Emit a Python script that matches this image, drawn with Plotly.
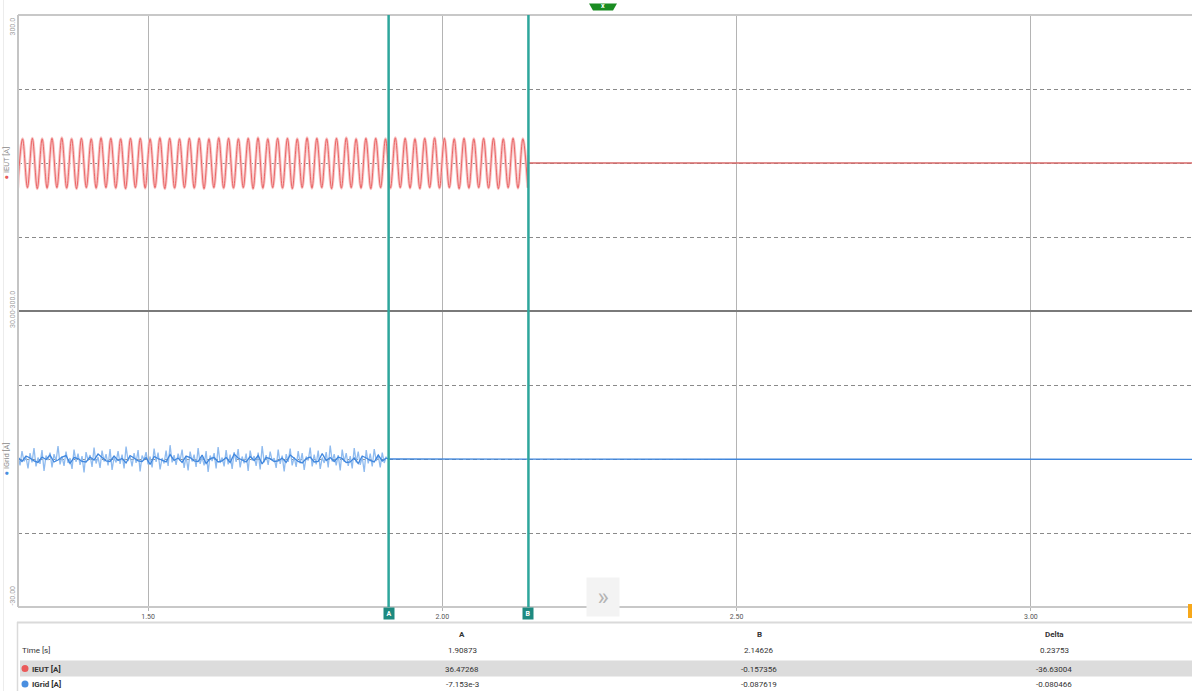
import plotly.graph_objects as go

# ---------------- data ----------------
x_ticks = [1.50, 2.00, 2.50, 3.00]
x_range = [1.2791, 3.2736]

cursor_A = 1.90873
cursor_B = 2.14626

# IEUT: successive extrema (trough, peak, ...) of the 60 Hz current, sampled every half period
ieut_t0 = 1.2785
ieut_dt = 1.0 / 120.0
ieut_extrema = [
    -51, 49, -50, 50, -52, 49, -51, 50, -50, 51, -51, 49, -52, 50, -50, 49, -51, 51, -50, 50,
    -51, 49, -52, 50, -50, 50, -51, 49, -50, 51, -52, 50, -51, 49, -50, 50, -51, 50, -52, 49,
    -50, 51, -51, 50, -51, 49, -50, 50, -52, 51, -51, 49, -50, 50, -51, 50, -52, 49, -50, 51,
    -51, 50, -50, 49, -52, 50, -51, 51, -50, 49, -51, 50, -52, 50, -50, 49, -51, 51, -50, 50,
    -51, 49, -52, 50, -50, 51, -51, 50, -50, 49, -52, 50, -51, 49, -50, 50, -51, 50, -52, 49,
    -50, 50, -51, 49, -50,
]
ieut_tail_t = [2.14517, 2.14626, 2.14640, 3.2736]
ieut_tail_v = [-50, 16, 0, 0]

# IGrid: noisy current before cursor A (envelope spikes + mean line), then ~0
igrid_t0 = 1.2791
igrid_env_dt = 0.0034
igrid_env = [
    0.9, -1.3, 1.6, -0.5, 0.4, -1.9, 1.2, -0.7, 2.2, -1.5, 0.3, -1.0, 1.8, -2.4, 0.7, -0.2, 1.3, -1.7, 1.0, -0.4,
    2.6, -1.1, 0.5, -1.4, 1.5, -0.8, 0.2, -2.0, 1.9, -0.6, 1.1, -1.2, 0.6, -2.7, 1.4, -0.3, 0.8, -1.6, 2.3, -0.9,
    0.4, -1.8, 1.7, -0.5, 1.0, -1.3, 2.0, -2.2, 0.3, -0.7, 1.6, -1.0, 0.9, -1.9, 2.5, -0.4, 0.6, -1.5, 1.2, -0.8,
    1.8, -2.5, 0.7, -0.2, 1.4, -1.1, 0.5, -1.7, 2.1, -0.6, 1.3, -2.1, 0.2, -0.9, 1.7, -1.4, 2.8, -0.7, 0.8, -1.2,
    1.1, -0.3, 1.9, -1.8, 0.6, -2.3, 1.5, -0.5, 0.9, -1.6, 2.2, -1.0, 0.4, -1.3, 1.6, -2.6, 0.7, -0.4, 1.2, -1.9,
    2.4, -0.8, 0.3, -1.5, 1.8, -1.1, 0.9, -2.0, 1.4, -0.6, 2.0, -1.7, 0.5, -0.9, 1.1, -2.4, 1.7, -0.3, 0.6, -1.4,
    1.3, -2.1, 2.6, -0.7, 0.8, -1.2, 1.5, -0.4, 0.2, -1.8, 1.9, -1.0, 0.7, -2.5, 1.0, -0.6, 2.1, -1.3, 0.4, -1.6,
    1.6, -0.9, 1.2, -2.2, 0.5, -0.3, 2.3, -1.5, 0.9, -1.1, 1.7, -2.0, 0.3, -0.8, 1.4, -1.7, 2.7, -0.5, 1.0, -1.3,
    0.8, -2.3, 1.9, -0.6, 1.2, -1.4, 0.6, -1.9, 2.2, -0.7, 1.5, -1.2, 0.4, -2.6, 1.8, -0.9, 1.1, -1.5, 2.0, -0.4,
    0.7, -1.7, 1.3, -0.8, 0.5,
]
igrid_line_dt = 0.0068
igrid_line = [
    0.3, -0.5, 0.6, 0.2, -0.4, -0.7, 0.4, -0.1, 0.8, -0.6, -0.2, 0.4, 0.7, -0.9, 0.3, 0.1, -0.5, -0.6, 0.4, -0.2,
    1.0, 0.2, -0.4, -0.5, 0.6, -0.3, 0.1, -0.8, 0.7, 0.2, -0.4, -0.5, 0.3, -1.1, 0.5, 0.1, -0.3, -0.6, 0.9, -0.3,
    0.2, -0.7, 0.6, 0.3, -0.4, -0.5, 0.8, -0.9, 0.1, 0.3, -0.6, -0.4, 0.3, -0.7, 1.0, 0.2, -0.2, -0.6, 0.5, -0.3,
    0.7, -1.0, 0.3, 0.1, -0.5, -0.4, 0.2, -0.7, 0.8, 0.2, -0.5, -0.8, 0.1, 0.4, -0.6, -0.5, 1.1, -0.3, 0.3, -0.5,
    0.4, 0.1, -0.7, -0.6, 0.2, -0.9, 0.6, 0.2, -0.3, -0.6, 0.8, -0.4, 0.2,
]
igrid_tail_t = [1.9047, 1.90873, 3.2736]
igrid_tail_v = [0.2, -0.007, -0.08]

# cursor table
table_cols = ["A", "B", "Delta"]
time_vals = ["1.90873", "2.14626", "0.23753"]
ieut_vals = ["36.47268", "-0.157356", "-36.63004"]
igrid_vals = ["-7.153e-3", "-0.087619", "-0.080466"]

# ---------------- styling helpers ----------------
W, H = 1192, 691
L, T, R, B = 18, 15, 0, 84
PW, PH = W - L - R, H - T - B


def X(px):
    return (px - L) / PW


def Y(py):
    return (T + PH - py) / PH


RED = "#e85a5b"
RED_BAND = "#f8c6c6"
BLUE = "#3f86dd"
BLUE_BAND = "#8fbbef"
TEAL = "#2ea69c"
TEAL_DARK = "#1d8a80"
FONT = "Roboto"

ieut_t = [ieut_t0 + i * ieut_dt for i in range(len(ieut_extrema))]
igrid_env_t = [igrid_t0 + i * igrid_env_dt for i in range(len(igrid_env))]
igrid_line_t = [igrid_t0 + i * igrid_line_dt for i in range(len(igrid_line))]

fig = go.Figure()
fig.add_trace(go.Scatter(x=ieut_t, y=ieut_extrema, mode="lines", yaxis="y",
                         line=dict(color=RED_BAND, width=3, shape="spline", smoothing=1.0),
                         hoverinfo="skip"))
fig.add_trace(go.Scatter(x=ieut_t, y=ieut_extrema, mode="lines", yaxis="y",
                         line=dict(color=RED, width=0.9, shape="spline", smoothing=1.0)))
fig.add_trace(go.Scatter(x=ieut_tail_t, y=ieut_tail_v, mode="lines", yaxis="y",
                         line=dict(color="#d86a6a", width=1.4)))
fig.add_trace(go.Scatter(x=igrid_env_t, y=igrid_env, mode="lines", yaxis="y2",
                         line=dict(color=BLUE_BAND, width=1.3), hoverinfo="skip"))
fig.add_trace(go.Scatter(x=igrid_line_t, y=igrid_line, mode="lines", yaxis="y2",
                         line=dict(color=BLUE, width=1.3)))
fig.add_trace(go.Scatter(x=igrid_tail_t, y=igrid_tail_v, mode="lines", yaxis="y2",
                         line=dict(color=BLUE, width=1.4)))

grid_common = dict(showgrid=True, gridcolor="#8a8a8a", gridwidth=1, griddash="4px,3px",
                   showticklabels=False, zeroline=False, showline=False, ticks="")

shapes = []
# panel borders
shapes.append(dict(type="line", xref="paper", yref="paper", x0=0, x1=1, y0=1, y1=1,
                   line=dict(color="#c8c8c8", width=2)))
shapes.append(dict(type="line", xref="paper", yref="paper", x0=0, x1=1, y0=0.5, y1=0.5,
                   line=dict(color="#7a7a7a", width=2)))
shapes.append(dict(type="line", xref="paper", yref="paper", x0=0, x1=1, y0=0, y1=0,
                   line=dict(color="#c8c8c8", width=2)))
shapes.append(dict(type="line", xref="paper", yref="paper", x0=0, x1=0, y0=0, y1=1,
                   line=dict(color="#c4c4c4", width=2)))
# outer faint left line
shapes.append(dict(type="line", xref="paper", yref="paper", x0=X(3.5), x1=X(3.5), y0=Y(0), y1=Y(691),
                   line=dict(color="#ececec", width=1)))
# cursors
for c in (cursor_A, cursor_B):
    shapes.append(dict(type="line", xref="x", yref="paper", x0=c, x1=c, y0=0, y1=1,
                       line=dict(color=TEAL, width=2.5), layer="above"))
# table frame
shapes.append(dict(type="line", xref="paper", yref="paper", x0=X(17), x1=1, y0=Y(622.5), y1=Y(622.5),
                   line=dict(color="#dadada", width=2)))
shapes.append(dict(type="line", xref="paper", yref="paper", x0=X(17.5), x1=X(17.5), y0=Y(622), y1=Y(691),
                   line=dict(color="#dadada", width=1.5)))
# highlighted IEUT row
shapes.append(dict(type="rect", xref="paper", yref="paper", x0=X(20), x1=1, y0=Y(676.5), y1=Y(660.5),
                   fillcolor="#dcdcdc", line=dict(width=0), layer="below"))
# legend dots in table
shapes.append(dict(type="circle", xref="paper", yref="paper", x0=X(21.5), x1=X(28.5),
                   y0=Y(672), y1=Y(665), fillcolor="#ea5a5a", line=dict(width=0)))
shapes.append(dict(type="circle", xref="paper", yref="paper", x0=X(21.5), x1=X(28.5),
                   y0=Y(687.5), y1=Y(680.5), fillcolor="#4a8fe0", line=dict(width=0)))
# green tab at top
shapes.append(dict(type="path", xref="paper", yref="paper",
                   path=f"M {X(589)} {Y(3.5)} L {X(617)} {Y(3.5)} L {X(613)} {Y(10.5)} L {X(593)} {Y(10.5)} Z",
                   fillcolor="#1a8c22", line=dict(width=0)))
# orange end marker
shapes.append(dict(type="rect", xref="paper", yref="paper", x0=X(1188), x1=X(1194), y0=Y(618), y1=Y(604),
                   fillcolor="#f7a81b", line=dict(width=0)))

ann = []
lab_font = dict(family=FONT, size=7, color="#a0a0a0")
ann.append(dict(text="300.0", x=X(12.5), y=Y(27), xref="paper", yref="paper", textangle=-90,
                showarrow=False, font=lab_font, xanchor="center", yanchor="middle"))
ann.append(dict(text="30.00-300.0", x=X(13), y=Y(310), xref="paper", yref="paper", textangle=-90,
                showarrow=False, font=lab_font, xanchor="center", yanchor="middle"))
ann.append(dict(text="-30.00", x=X(12.5), y=Y(596), xref="paper", yref="paper", textangle=-90,
                showarrow=False, font=lab_font, xanchor="center", yanchor="middle"))
ann.append(dict(text="<span style='color:#e8595a'>●</span> IEUT [A]", x=X(5.5), y=Y(163),
                xref="paper", yref="paper", textangle=-90, showarrow=False,
                font=dict(family=FONT, size=7.5, color="#8a8a8a"), xanchor="center", yanchor="middle"))
ann.append(dict(text="<span style='color:#4a8fe0'>●</span> IGrid [A]", x=X(5.5), y=Y(459),
                xref="paper", yref="paper", textangle=-90, showarrow=False,
                font=dict(family=FONT, size=7.5, color="#8a8a8a"), xanchor="center", yanchor="middle"))
# cursor badges
for c, name in ((cursor_A, "A"), (cursor_B, "B")):
    ann.append(dict(text=f"<b>{name}</b>", x=c, y=Y(613), xref="x", yref="paper", showarrow=False,
                    font=dict(family=FONT, size=7, color="white"), bgcolor=TEAL_DARK,
                    width=10, height=11, borderpad=0, xanchor="center", yanchor="middle"))
# >> button
ann.append(dict(text="»", x=X(603), y=Y(597), xref="paper", yref="paper", showarrow=False,
                font=dict(family=FONT, size=24, color="#b4b4b4"), bgcolor="#f3f3f3",
                width=32, height=38, borderpad=0, xanchor="center", yanchor="middle"))
# green tab glyph
ann.append(dict(text="<b>x</b>", x=X(603), y=Y(6.5), xref="paper", yref="paper", showarrow=False,
                font=dict(family=FONT, size=7, color="white"), xanchor="center", yanchor="middle"))

# table
col_x = [462, 759, 1054]
tfont = dict(family=FONT, size=8, color="#333333")
for cx, name, tv, iv, gv in zip(col_x, table_cols, time_vals, ieut_vals, igrid_vals):
    ann.append(dict(text=f"<b>{name}</b>", x=X(cx), y=Y(634), xref="paper", yref="paper",
                    showarrow=False, font=tfont, xanchor="center", yanchor="middle"))
    for val, py in ((tv, 650), (iv, 669), (gv, 684)):
        ann.append(dict(text=val, x=X(cx), y=Y(py), xref="paper", yref="paper",
                        showarrow=False, font=tfont, xanchor="center", yanchor="middle"))
ann.append(dict(text="Time [s]", x=X(20), y=Y(650), xref="paper", yref="paper", showarrow=False,
                font=tfont, xanchor="left", yanchor="middle"))
ann.append(dict(text="<b>IEUT [A]</b>", x=X(29.5), y=Y(669), xref="paper", yref="paper", showarrow=False,
                font=tfont, xanchor="left", yanchor="middle"))
ann.append(dict(text="<b>IGrid [A]</b>", x=X(29.5), y=Y(684), xref="paper", yref="paper", showarrow=False,
                font=tfont, xanchor="left", yanchor="middle"))

fig.update_layout(
    width=W, height=H, autosize=False,
    margin=dict(l=L, r=R, t=T, b=B, pad=0),
    paper_bgcolor="white", plot_bgcolor="white",
    showlegend=False,
    font=dict(family=FONT),
    xaxis=dict(range=x_range, domain=[0, 1], anchor="y2", tickvals=x_ticks, tickformat=".2f",
               showgrid=True, gridcolor="#b4b4b4", gridwidth=1, zeroline=False, showline=False,
               ticks="outside", ticklen=3, tickcolor="#b4b4b4",
               tickfont=dict(family=FONT, size=7, color="#555555")),
    yaxis=dict(domain=[0.5, 1], range=[-300, 300], tickvals=[-150, 0, 150], anchor="x", **grid_common),
    yaxis2=dict(domain=[0, 0.5], range=[-30, 30], tickvals=[-15, 0, 15], anchor="x", **grid_common),
    shapes=shapes,
    annotations=ann,
)

fig.write_html("out.html", config={"displayModeBar": False})
